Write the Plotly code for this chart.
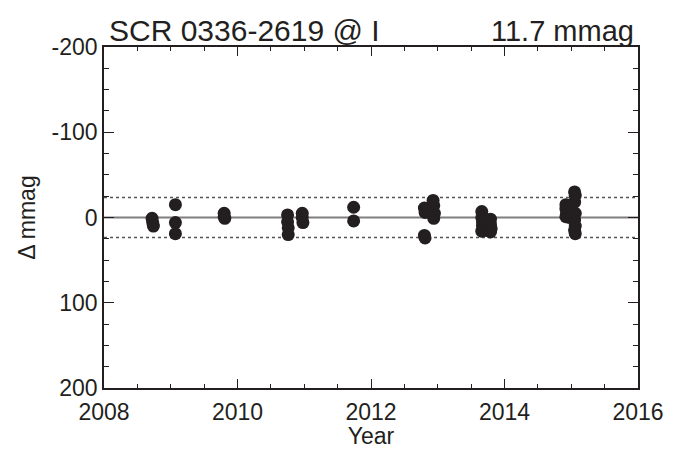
import plotly.graph_objects as go

# Data (year, delta mmag)
years = (
    [2008.72, 2008.73, 2008.74]
    + [2009.07, 2009.07, 2009.07]
    + [2009.80, 2009.80, 2009.81]
    + [2010.75, 2010.75, 2010.76, 2010.76]
    + [2010.97, 2010.97, 2010.98]
    + [2011.74, 2011.74]
    + [2012.80, 2012.81, 2012.80, 2012.81]
    + [2012.93, 2012.94, 2012.95, 2012.94]
    + [2013.66, 2013.66, 2013.67, 2013.67, 2013.66]
    + [2013.72, 2013.72, 2013.73]
    + [2013.79, 2013.79, 2013.80, 2013.79]
    + [2014.92, 2014.92, 2014.93, 2014.92]
    + [2014.97, 2014.97]
    + [2015.05, 2015.06, 2015.05, 2015.06, 2015.05, 2015.06, 2015.05, 2015.06]
)
dmag = (
    [1, 6, 10]
    + [-15, 6, 19]
    + [-5, -1, 1]
    + [-3, 5, 12, 20]
    + [-5, 0, 6]
    + [-12, 4]
    + [-11, -6, 21, 24]
    + [-20, -14, -5, 1]
    + [-7, 0, 5, 10, 16]
    + [3, 10, 15]
    + [2, 8, 13, 17]
    + [-15, -10, -5, -1]
    + [-8, 0]
    + [-30, -26, -18, -5, 3, 10, 15, 19]
)
sigma = 11.7
title_left = "SCR 0336-2619 @ I"
title_right = "11.7 mmag"
x_ticks = [2008, 2010, 2012, 2014, 2016]
y_ticks = [-200, -100, 0, 100, 200]
y_ticktext = ["-200", "-100", "0", "100", "200"]

FONT = "Liberation Sans, Arial, Helvetica, sans-serif"
INK = "#231f20"

fig = go.Figure()
# zero line
fig.add_trace(go.Scatter(x=[2008, 2016], y=[0, 0], mode="lines",
                         line=dict(color="#7f7f7f", width=2), hoverinfo="skip"))
# +/- 2 sigma dotted lines
for s in (-2 * sigma, 2 * sigma):
    fig.add_trace(go.Scatter(x=[2008, 2016], y=[s, s], mode="lines",
                             line=dict(color="#555555", width=1.5, dash="dot"),
                             hoverinfo="skip"))
fig.add_trace(go.Scatter(x=years, y=dmag, mode="markers",
                         marker=dict(color=INK, size=13, line=dict(width=0))))

axis_common = dict(
    showgrid=False, zeroline=False, showline=True, linecolor=INK,
    linewidth=1.5, mirror="ticks", ticks="inside", tickcolor=INK,
    tickwidth=1, tickfont=dict(family=FONT, size=23, color=INK),
    automargin=False,
)

fig.update_xaxes(range=[2008, 2016], tickvals=x_ticks, ticklen=9,
                 ticklabelstandoff=3,
                 title=dict(text="Year", font=dict(family=FONT, size=23, color=INK),
                            standoff=2),
                 minor=dict(dtick=0.5, ticks="inside", ticklen=4, tickcolor=INK),
                 **axis_common)
fig.update_yaxes(range=[200, -200], tickvals=y_ticks, ticktext=y_ticktext, ticklen=10,
                 title=dict(text="Δ mmag", font=dict(family=FONT, size=23, color=INK),
                            standoff=10),
                 minor=dict(dtick=25, ticks="inside", ticklen=5, tickcolor=INK),
                 **axis_common)

fig.add_annotation(text=title_left, xref="paper", yref="paper", x=0.006, y=1,
                   xanchor="left", yanchor="bottom", yshift=-2, showarrow=False,
                   font=dict(family=FONT, size=30, color=INK))
fig.add_annotation(text=title_right, xref="paper", yref="paper", x=0.996, y=1,
                   xanchor="right", yanchor="bottom", yshift=-2, showarrow=False,
                   font=dict(family=FONT, size=29, color=INK))

fig.update_layout(
    width=685, height=449,
    margin=dict(l=104, r=47, t=47, b=61),
    paper_bgcolor="white", plot_bgcolor="white",
    showlegend=False,
)

fig.write_html("out.html")
